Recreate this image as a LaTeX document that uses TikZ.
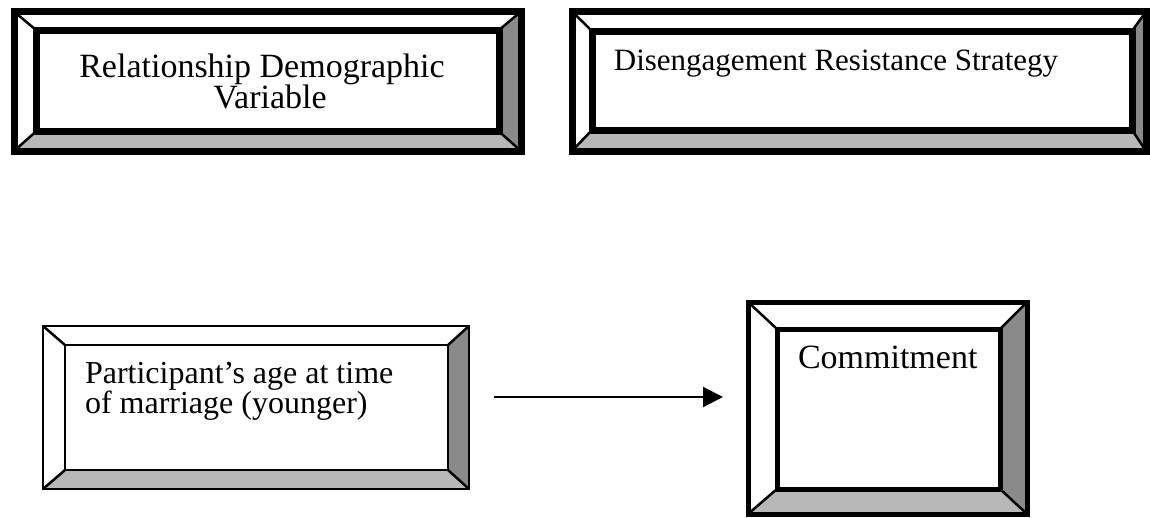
\documentclass[tikz,border=0pt]{standalone}
\usepackage{fontspec}
\setmainfont{Liberation Serif}
\usetikzlibrary{arrows.meta,backgrounds}

\tikzset{
  x=1pt, y=-1pt,
  frame/.style={draw, rectangle, inner sep=0pt, outer sep=0pt},
  face/.style={draw, rectangle, inner sep=0pt, outer sep=0pt, fill=white},
  label/.style={inner sep=0pt, outer sep=0pt},
  shadelow/.style={fill=black!28},
  shaderight/.style={fill=black!46},
  diag/.style={line width=2.5pt},
  link/.style={line width=2pt, -{Triangle[length=20pt,width=20pt]}},
}

% bevelled frame: lower and right slopes shaded, corners joined by diagonals
\newcommand\bevel[2]{%
  \begin{pgfonlayer}{background}
    \fill[shadelow] (#1.south west) -- (#1.south east) -- (#2.south east) -- (#2.south west) -- cycle;
    \fill[shaderight] (#1.north east) -- (#1.south east) -- (#2.south east) -- (#2.north east) -- cycle;
    \draw[diag] (#1.north west) -- (#2.north west);
    \draw[diag] (#1.north east) -- (#2.north east);
    \draw[diag] (#1.south west) -- (#2.south west);
    \draw[diag] (#1.south east) -- (#2.south east);
  \end{pgfonlayer}}

\begin{document}
\begin{tikzpicture}
  \useasboundingbox (0,0) rectangle (1150,517);

  % top left: relationship demographic variable
  \node[frame, line width=7pt, minimum width=507pt, minimum height=139.5pt] (o1) at (267.5,81.25) {};
  \node[face, line width=7pt, minimum width=463pt, minimum height=101.5pt] (f1) at (267.5,80.75) {};
  \bevel{o1}{f1}
  \node[label, anchor=base] (t1) at (262,77)
    {\fontsize{34}{27}\selectfont\vtop{\baselineskip=27pt
      \hbox to 420pt{\hfil Relationship Demographic\hfil}
      \hbox to 420pt{\hfil\hskip16pt Variable\hfil}}};

  % top right: disengagement resistance strategy
  \node[frame, line width=7pt, minimum width=574pt, minimum height=139.5pt] (o2) at (859,81.25) {};
  \node[face, line width=7pt, minimum width=540pt, minimum height=99pt] (f2) at (862,80.5) {};
  \bevel{o2}{f2}
  \node[label, anchor=base] (t2) at (836,70)
    {\fontsize{31}{27}\selectfont Disengagement Resistance Strategy};

  % bottom left: participant's age
  \node[frame, line width=2.5pt, minimum width=426pt, minimum height=163pt] (o3) at (256,407.5) {};
  \node[face, line width=2.5pt, minimum width=383pt, minimum height=125pt] (f3) at (256.5,407.5) {};
  \bevel{o3}{f3}
  \node[label, anchor=base west] (t3) at (85,383)
    {\fontsize{32}{25}\selectfont\vtop{\baselineskip=25pt
      \hbox{Participant’s age at time}
      \hbox{of marriage (younger)}}};

  % bottom right: commitment
  \node[frame, line width=5pt, minimum width=279pt, minimum height=212pt] (o4) at (887.5,408) {};
  \node[face, line width=5pt, minimum width=223pt, minimum height=160pt] (f4) at (888.5,409) {};
  \bevel{o4}{f4}
  \node[label, anchor=base west] (t4) at (798,368)
    {\fontsize{34}{28}\selectfont Commitment};

  % effect
  \draw[link] ([shift={(25,-10.5)}]o3.east) -- ([shift={(-25,-11)}]o4.west);
\end{tikzpicture}
\end{document}
